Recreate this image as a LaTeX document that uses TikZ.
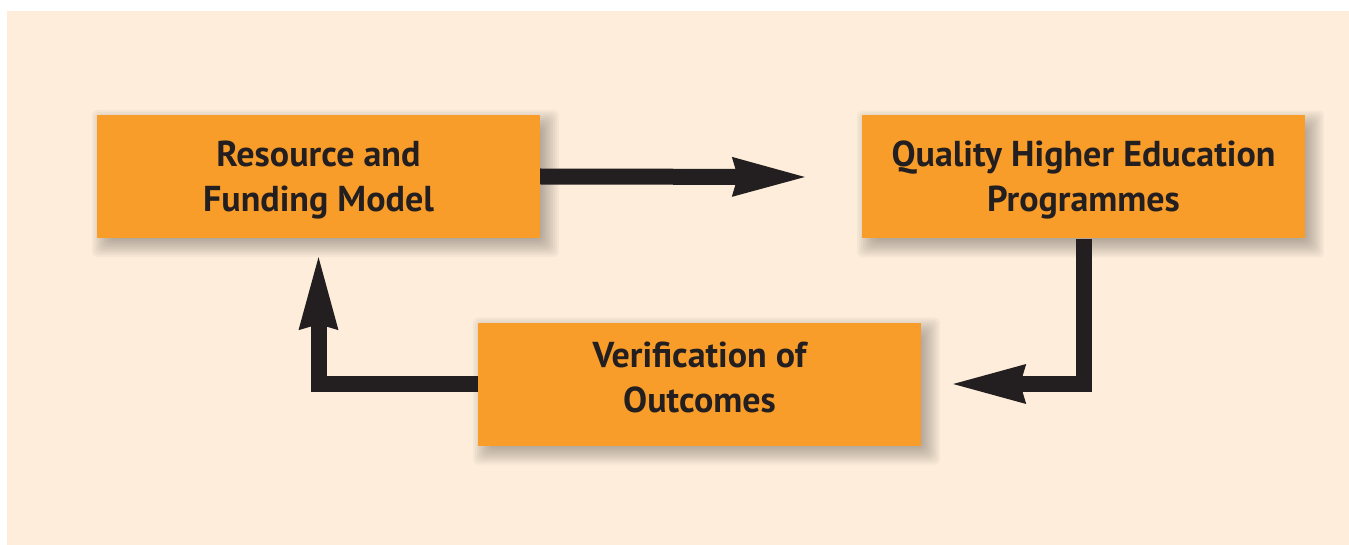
\documentclass[tikz,border=0pt]{standalone}
\usepackage{fontspec}
\setmainfont{PT Sans}
\usetikzlibrary{arrows.meta,backgrounds}
\definecolor{cream}{HTML}{FDEDDA}
\definecolor{boxorange}{HTML}{F99D2A}
\definecolor{ink}{HTML}{231F20}
\tikzset{
  block/.style={fill=boxorange, minimum width=443pt, minimum height=123pt,
    inner sep=0pt, align=center, text=ink,
    font=\bfseries\fontsize{36}{45}\selectfont},
  softshadow/.style={fill=black, opacity=0.03, rounded corners=6pt},
  flow/.style={draw=ink, line width=16pt,
    -{Stealth[length=73pt, width=40pt, inset=6pt, line width=0pt]}}
}
\begin{document}
\begin{tikzpicture}[x=1pt,y=-1pt]
    \useasboundingbox (0,0) rectangle (1349,545);
    % the three boxes
    \node[block,text depth=1pt] (resource) at (318.5,176.5) {Resource and\\Funding Model};
    \node[block,text depth=1pt] (quality) at (1083.5,177) {Quality Higher Education\\Programmes};
    \node[block,text depth=13pt] (verify) at (699.5,384) {Verification of\\Outcomes};
    \begin{pgfonlayer}{background}
      \fill[cream] (7,11) rectangle (1349,545);
      \foreach \b in {resource,quality,verify}
        \foreach \r in {-12,-10,...,12}
          \fill[softshadow] ([xshift={7-\r}, yshift={-7-\r}]\b.south west)
                      rectangle ([xshift={7+\r}, yshift={-7+\r}]\b.north east);
    \end{pgfonlayer}
    % the cycle of arrows
    \draw[flow] (resource.east) -- ([xshift=-57pt]quality.west);
    \draw[flow] (quality.south) |- ([xshift=32pt]verify.east);
    \draw[flow] (verify.west) -| ([yshift=-19pt]resource.south);
\end{tikzpicture}
\end{document}
